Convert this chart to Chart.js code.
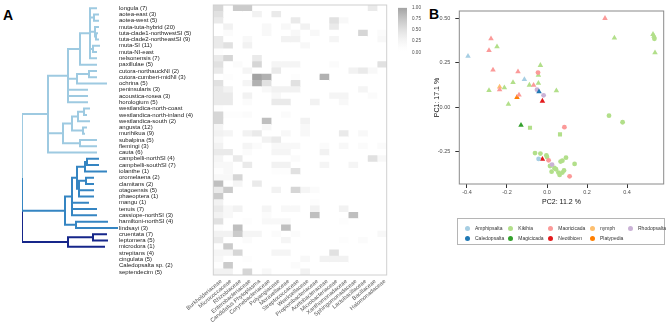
<!DOCTYPE html>
<html>
<head>
<meta charset="utf-8">
<script src="https://cdn.jsdelivr.net/npm/chart.js@4.4.1/dist/chart.umd.min.js"></script>
<style>
  body { margin: 0; width: 669px; height: 330px; position: relative; overflow: hidden; background: #fff; font-family: "Liberation Sans", Arial, sans-serif; }
  canvas { position: absolute; }
  .panel { position: absolute; font-weight: bold; font-size: 14px; line-height: 1; color: #000; }
  #legend { position: absolute; left: 457px; top: 218px; width: 206px; height: 25px; border: 1px solid #b5b5b5; }
  .item { position: absolute; font-size: 5px; line-height: 6px; color: #333; white-space: nowrap; }
  .dot { position: absolute; width: 5px; height: 5px; border-radius: 50%; }
</style>
</head>
<body>
<div class="panel" style="left:3px;top:8px">A</div>
<div class="panel" style="left:429px;top:7px">B</div>
<canvas id="tree" width="125" height="280" style="left:0;top:0"></canvas>
<canvas id="heat" width="275" height="330" style="left:119px;top:0"></canvas>
<canvas id="bar" width="40" height="60" style="left:396px;top:0"></canvas>
<canvas id="pca" width="264" height="210" style="left:405px;top:0"></canvas>
<div id="legend"></div>
<script>
'use strict';
Chart.defaults.font.family = '"Liberation Sans", Arial, sans-serif';

// Heatmap rows (top to bottom) and columns
var species = [
  'longula (7)', 'aotea-east (3)', 'aotea-west (5)', 'muta-tuta-hybrid (20)',
  'tuta-clade1-northwestSI (5)', 'tuta-clade2-northeastSI (9)', 'muta-SI (11)', 'muta-NI-east',
  'nelsonensis (7)', 'paxillulae (5)', 'cutora-northauckNI (2)', 'cutora-cumberi-midNI (3)',
  'ochrina (5)', 'peninsularis (3)', 'acoustica-rosea (3)', 'horologium (5)',
  'westlandica-north-coast', 'westlandica-north-inland (4)', 'westlandica-south (2)', 'angusta (12)',
  'murihikua (9)', 'subalpina (5)', 'flemingi (3)', 'cauta (6)',
  'campbelli-northSI (4)', 'campbelli-southSI (7)', 'iolanthe (1)', 'oromelaena (2)',
  'clamitans (2)', 'otagoensis (5)', 'phaeoptera (1)', 'mangu (1)',
  'tenuis (7)', 'cassiope-northSI (3)', 'hamiltoni-northSI (4)', 'lindsayi (3)',
  'cruentata (7)', 'leptomera (5)', 'microdora (1)', 'strepitans (4)',
  'cingulata (5)', 'Caledopsalta sp. (2)', 'septendecim (5)'
];
var families = [
  'Burkholderiaceae', 'Micrococcaceae', 'Rhizobiaceae', 'Enterobacteriaceae',
  'Candidatus Phytoplasma', 'Corynebacteriaceae', 'Polyangiaceae', 'Moraxellaceae',
  'Streptococcaceae', 'Weeksellaceae', 'Propionibacteriaceae', 'Acetobacteraceae',
  'Microbacteriaceae', 'Xanthomonadaceae', 'Sphingomonadaceae', 'Lactobacillaceae',
  'Bacillaceae', 'Halomonadaceae'
];
var heatValues = [
  [.6,0,.7,.7,0,0,0,0,0,0,0,0,0,0,0,0,.4,0],
  [.5,0,0,0,.3,0,.4,0,0,0,0,0,0,0,0,0,0,0],
  [.4,0,0,0,0,0,0,0,.4,0,0,0,.5,.2,0,0,0,0],
  [0,.3,0,0,0,.2,0,.2,0,.3,0,0,.4,0,0,0,0,0],
  [0,.15,0,0,0,.2,0,0,.2,0,.2,0,0,0,0,.6,0,.15],
  [.4,0,0,.2,0,0,0,.3,.3,0,0,0,.25,0,0,0,0,.2],
  [.4,.5,0,.3,0,0,0,0,0,.2,0,0,0,0,0,0,0,0],
  [.1,0,0,0,0,0,0,0,0,0,0,0,0,0,0,0,0,0],
  [.4,.6,0,0,.4,0,0,0,0,0,0,0,0,0,0,0,0,0],
  [.5,0,.15,0,.6,0,.25,.25,.25,0,0,0,.15,0,0,0,0,.5],
  [.4,0,0,.25,0,0,.4,0,0,0,0,0,0,0,.3,.4,.2,0],
  [0,.1,0,0,1,.9,0,0,.1,0,0,.9,0,0,0,0,0,0],
  [.5,0,0,.25,.9,.5,0,0,.5,0,0,0,0,0,0,0,0,0],
  [.4,.3,0,0,0,.2,.3,.3,.3,0,0,0,0,0,0,.25,0,0],
  [.4,.4,0,.3,0,0,.2,0,0,0,0,0,.25,.25,0,0,.15,0],
  [.4,.4,0,.15,0,0,.4,.4,0,0,.3,0,0,.2,0,0,0,0],
  [.1,0,0,0,0,0,0,0,0,0,0,0,0,0,0,0,0,0],
  [.6,.1,.1,.15,0,0,0,.15,0,0,0,0,0,0,0,0,0,0],
  [.6,0,0,0,0,.8,0,0,0,.3,0,0,0,0,0,0,0,0],
  [.25,0,0,0,0,.2,0,0,0,.2,0,0,0,0,0,0,0,0],
  [.3,.25,0,.3,.4,0,0,.2,0,.2,0,0,0,.4,0,.2,0,0],
  [.2,0,0,0,0,.3,.4,0,0,0,0,0,0,0,0,0,0,0],
  [.3,0,0,.25,.15,0,.2,.2,.2,0,0,.15,0,.2,0,.15,0,.15],
  [.4,.4,0,.15,0,0,.25,.25,0,0,0,.3,0,0,0,0,0,0],
  [.25,0,.4,0,0,0,0,0,.15,0,0,0,0,0,0,0,.5,.2],
  [.2,.2,0,.4,0,0,.3,.3,0,0,0,.25,0,0,.25,0,0,0],
  [.1,.2,0,0,0,0,.1,.1,.5,0,0,0,0,0,0,0,0,0],
  [.2,.2,.6,0,0,0,0,0,0,0,0,0,0,0,0,0,0,0],
  [.8,0,.25,0,.4,0,0,0,0,0,0,0,0,0,0,0,0,0],
  [.4,.7,0,0,0,0,.3,0,.6,.25,.15,0,0,0,0,0,0,0],
  [.7,0,0,0,0,0,0,0,0,0,0,0,0,0,0,0,0,0],
  [.3,0,0,0,0,0,0,0,0,0,.1,0,0,0,0,0,0,0],
  [.4,.2,.3,0,0,.25,0,.2,.2,0,.3,0,0,.3,0,0,0,0],
  [.3,.2,0,0,0,.15,0,0,0,0,.8,0,0,0,.8,0,0,0],
  [.5,0,0,.1,0,.2,.2,.2,0,0,0,0,0,.1,0,0,0,0],
  [.1,0,.8,0,0,0,0,.8,0,0,0,0,0,0,0,0,0,0],
  [.3,.3,.7,.25,.25,0,.15,0,.15,0,0,0,0,0,0,0,0,.2],
  [.4,0,0,.15,0,0,0,.25,0,0,0,0,0,.1,0,.15,0,0],
  [.1,.7,0,0,0,0,0,0,0,0,0,0,0,0,0,0,0,0],
  [.25,.25,.6,0,0,0,.25,.25,0,0,0,0,.5,0,0,0,0,0],
  [.2,0,0,.1,0,0,0,0,0,.2,0,.3,.3,.3,0,0,0,0],
  [.1,.7,0,0,0,0,0,0,.15,0,0,0,0,0,0,0,0,0],
  [.3,.3,0,.6,0,.2,0,0,0,.3,0,0,0,0,0,0,0,0]
];
var heatTicks = [0, 0.25, 0.5, 0.75, 1];

// Dendrogram: node(depth, children...), tip(depth, row in species)
function node(d) { return { d: d, k: Array.prototype.slice.call(arguments, 1) }; }
function tip(d, r) { return { d: d, r: r }; }
var lightClade = node(26,
  node(46,
    node(58,
      node(68, tip(75, 0), node(72, tip(77, 1), tip(77, 2)),
        node(73, tip(77, 3), node(74, tip(76, 4), tip(77, 5))),
        node(71, tip(78, 6), tip(75, 7)), tip(75, 8)),
      tip(75, 9)),
    node(55, node(67, tip(75, 10), tip(75, 11)), tip(85, 12)),
    tip(66, 13), tip(66, 14), tip(66, 15)),
  node(41,
    node(50, node(56, node(62, tip(68, 16), tip(65, 17)), tip(68, 18)),
      node(61, tip(65, 19), tip(63, 20))),
    node(58, tip(75, 21), tip(75, 22))),
  tip(75, 23));
var midClade = node(43,
  node(50,
    node(55,
      node(63, node(65, tip(77, 24), tip(77, 25)), tip(85, 26)),
      node(57, node(64, tip(72, 27), tip(72, 28)), tip(72, 29), tip(72, 30))),
    tip(67, 31), tip(75, 32), tip(75, 33)),
  node(54, tip(86, 34), tip(96, 35)));
var darkClade = node(46, node(71, tip(85, 36), tip(86, 37)), tip(83, 38));
var clades = [lightClade, midClade, darkClade];
var cladeColors = ['#9ecae1', '#3585c2', '#16268a'];

// PCA points; genus is an index into genera, shape t/c/s
var genera = ['Amphipsalta', 'Caledopsalta', 'Kikihia', 'Magicicada', 'Maoricicada', 'Neotibicen', 'nymph', 'Platypedia', 'Rhodopsalta'];
var genusColors = ['#a6cee3', '#1f78b4', '#b2df8a', '#33a02c', '#fb9a99', '#e31a1c', '#fdbf6f', '#ff7f00', '#cab2d6'];
var pcaX = [0.29, 0.337, 0.53, 0.535, 0.537, 0.54, -0.28, -0.29, -0.25, -0.395,
  -0.27, -0.145, -0.045, -0.033, -0.043, -0.113, -0.17, -0.043, -0.088, -0.067,
  -0.29, -0.237, -0.237, -0.213, -0.05, -0.04, -0.017, 0.047, -0.14, -0.15,
  -0.023, -0.193, -0.13, -0.085, 0.087, 0.31, 0.378, 0.065, -0.06, -0.033,
  -0.003, 0.0, -0.042, -0.023, 0.008, 0.095, 0.068, 0.077, 0.138, 0.025,
  0.037, 0.045, 0.023, 0.057, 0.077, 0.063, 0.113, 0.015, 0.085];
var pcaY = [0.50, 0.39, 0.41, 0.40, 0.385, 0.307, 0.385, 0.32, 0.34, 0.287,
  0.21, 0.20, 0.195, 0.236, 0.18, 0.157, 0.14, 0.135, 0.125, 0.124,
  0.095, 0.114, 0.099, 0.11, 0.099, 0.088, 0.067, 0.093, 0.069, 0.056,
  0.035, 0.017, -0.10, -0.115, -0.112, -0.047, -0.084, -0.152, -0.257, -0.26,
  -0.27, -0.28, -0.29, -0.292, -0.298, -0.283, -0.305, -0.30, -0.318, -0.322,
  -0.341, -0.348, -0.362, -0.367, -0.367, -0.38, -0.388, -0.33, -0.355];
var pcaGenus = [4, 2, 2, 2, 2, 2, 4, 4, 2, 0,
  4, 4, 4, 2, 2, 0, 2, 2, 2, 4,
  2, 6, 4, 2, 8, 1, 8, 2, 4, 7,
  5, 2, 3, 2, 4, 2, 2, 2, 2, 2,
  2, 2, 0, 5, 4, 2, 2, 2, 2, 8,
  2, 2, 2, 2, 2, 2, 4, 2, 2];
var pcaShape = ['t', 't', 't', 't', 'c', 't', 't', 't', 't', 't',
  't', 't', 'c', 't', 't', 't', 't', 't', 't', 't',
  't', 't', 't', 't', 'c', 't', 'c', 't', 't', 't',
  't', 't', 't', 's', 'c', 'c', 'c', 's', 'c', 'c',
  'c', 'c', 'c', 't', 'c', 'c', 'c', 'c', 'c', 'c',
  'c', 'c', 'c', 'c', 'c', 'c', 'c', 'c', 'c'];
var pcaXTicks = [-0.4, -0.2, 0, 0.2, 0.4];
var pcaYTicks = [-0.25, 0, 0.25, 0.5];

// light greys for small values, darker only near the top of the scale
function heatColor(v) {
  var g = Math.round(255 - 92 * Math.pow(Math.min(1, v || 0), 1.6));
  return 'rgb(' + g + ',' + g + ',' + g + ')';
}

function framePlugin(color) {
  return {
    id: 'frame',
    afterDraw: function(chart) {
      var a = chart.chartArea, ctx = chart.ctx;
      ctx.save();
      ctx.strokeStyle = color;
      ctx.lineWidth = 1;
      ctx.strokeRect(a.left, a.top, a.right - a.left, a.bottom - a.top);
      ctx.restore();
    }
  };
}

function setTicks(values) {
  return function(axis) { axis.ticks = values.map(function(v) { return { value: v }; }); };
}

var noHover = { legend: { display: false }, tooltip: { enabled: false } };

// Tree: elbow segments from each parent to its children
function setY(n) {
  if (n.k) {
    n.k.forEach(setY);
    n.y = (n.k[0].y + n.k[n.k.length - 1].y) / 2;
  } else {
    n.y = n.r;
  }
}
function elbows(parent, child, out) {
  out.push({ x: parent.d, y: parent.y }, { x: parent.d, y: child.y }, { x: child.d, y: child.y }, { x: null, y: null });
  if (child.k) child.k.forEach(function(c) { elbows(child, c, out); });
}
var root = { d: 0, k: clades };
setY(root);

new Chart(document.getElementById('tree'), {
  type: 'scatter',
  data: {
    datasets: clades.map(function(c, i) {
      var pts = [];
      elbows(root, c, pts);
      return {
        data: pts, showLine: true, spanGaps: false, borderColor: cladeColors[i], borderWidth: 2,
        pointRadius: 0, borderCapStyle: 'butt', borderJoinStyle: 'miter', tension: 0
      };
    })
  },
  options: {
    responsive: false, animation: false, events: [],
    layout: { padding: { left: 22, right: 3, top: 5, bottom: 5 } },
    plugins: noHover,
    scales: {
      x: { type: 'linear', display: false, min: 0, max: 100 },
      y: { type: 'linear', display: false, min: -0.5, max: species.length - 0.5, reverse: true }
    }
  }
});

// Heatmap as stacked horizontal bars, one dataset per column
new Chart(document.getElementById('heat'), {
  type: 'bar',
  data: {
    labels: species,
    datasets: families.map(function(f, j) {
      return {
        label: f,
        data: species.map(function() { return 1; }),
        backgroundColor: heatValues.map(function(row) { return heatColor(row[j]); }),
        barPercentage: 1, categoryPercentage: 1, borderWidth: 0
      };
    })
  },
  options: {
    indexAxis: 'y', responsive: false, animation: false, events: [],
    layout: { padding: { left: 0, right: 7.3, top: 5, bottom: 0 } },
    plugins: noHover,
    scales: {
      x: {
        type: 'linear', stacked: true, min: 0, max: families.length,
        grid: { display: false, drawTicks: false }, border: { display: false },
        afterBuildTicks: setTicks(families.map(function(f, i) { return i + 0.5; })),
        afterFit: function(a) { a.height = 55; },
        ticks: {
          autoSkip: false, minRotation: 40, maxRotation: 40, padding: 3, labelOffset: 3,
          font: { size: 5.7 }, color: '#555',
          callback: function(v, i) { return families[i]; }
        }
      },
      y: {
        stacked: true,
        grid: { display: false, drawTicks: false }, border: { display: false },
        afterFit: function(a) { a.width = 94.3; },
        ticks: { autoSkip: false, crossAlign: 'far', padding: 0, font: { size: 6 }, color: '#222' }
      }
    }
  },
  plugins: [framePlugin('#d0d0d0')]
});

// Colour bar
new Chart(document.getElementById('bar'), {
  type: 'bar',
  data: {
    labels: [''],
    datasets: [{
      data: [[0, 1]], barPercentage: 1, categoryPercentage: 1, borderWidth: 0,
      backgroundColor: function(ctx) {
        var a = ctx.chart.chartArea;
        if (!a) return '#ccc';
        var g = ctx.chart.ctx.createLinearGradient(0, a.bottom, 0, a.top);
        for (var s = 0; s <= 10; s++) g.addColorStop(s / 10, heatColor(s / 10));
        return g;
      }
    }]
  },
  options: {
    responsive: false, animation: false, events: [],
    layout: { padding: { left: 2, right: 0, top: 5, bottom: 4 } },
    plugins: noHover,
    scales: {
      x: { display: false },
      y: {
        position: 'right', min: 0, max: 1,
        afterBuildTicks: setTicks(heatTicks),
        afterFit: function(a) { a.width = 29; },
        grid: { display: false, drawTicks: false }, border: { display: false },
        ticks: { padding: 5, font: { size: 4.6 }, color: '#4d4d4d', callback: function(v) { return v.toFixed(2); } }
      }
    }
  }
});

// PCA
var shapeStyle = { t: 'triangle', c: 'circle', s: 'rect' };
var shapeRadius = { t: 3.2, c: 2.4, s: 2.9 };
var pcaSets = genera.map(function(g, gi) {
  var idx = [];
  pcaGenus.forEach(function(v, i) { if (v === gi) idx.push(i); });
  return {
    label: g,
    data: idx.map(function(i) { return { x: pcaX[i], y: pcaY[i] }; }),
    pointStyle: idx.map(function(i) { return shapeStyle[pcaShape[i]]; }),
    pointRadius: idx.map(function(i) { return shapeRadius[pcaShape[i]]; }),
    backgroundColor: genusColors[gi], borderWidth: 0,
    order: g === 'Kikihia' ? 1 : 0
  };
});

new Chart(document.getElementById('pca'), {
  type: 'scatter',
  data: { datasets: pcaSets },
  options: {
    responsive: false, animation: false, events: [],
    layout: { padding: { left: 24, right: 5.3, top: 11, bottom: 0 } },
    plugins: noHover,
    scales: {
      x: {
        type: 'linear', min: -0.4385, max: 0.5835,
        afterBuildTicks: setTicks(pcaXTicks),
        afterFit: function(a) { a.height = 26; },
        grid: { drawOnChartArea: false, tickLength: 4, color: '#333' }, border: { display: false },
        ticks: { padding: 1, font: { size: 5.5 }, color: '#4d4d4d', callback: function(v) { return v.toFixed(1); } },
        title: { display: true, text: 'PC2: 11.2 %', font: { size: 7 }, color: '#111', padding: { top: 0, bottom: 4 } }
      },
      y: {
        type: 'linear', min: -0.431, max: 0.541,
        afterBuildTicks: setTicks(pcaYTicks),
        afterFit: function(a) { a.width = 30.3; },
        grid: { drawOnChartArea: false, tickLength: 4, color: '#333' }, border: { display: false },
        ticks: { padding: 5, font: { size: 5.5 }, color: '#4d4d4d', callback: function(v) { return v.toFixed(2); } },
        title: { display: true, text: 'PC1: 17.1 %', font: { size: 7 }, color: '#111', padding: { top: 4, bottom: 0 } }
      }
    }
  },
  plugins: [framePlugin('#8a8a8a')]
});

// Legend, two rows filled column by column
var legendBox = document.getElementById('legend');
var legendColX = [9, 52.3, 92.3, 134, 172];
var legendRowY = [9, 19.3];
genera.forEach(function(g, i) {
  var cx = legendColX[Math.floor(i / 2)], cy = legendRowY[i % 2];
  var dot = document.createElement('div');
  dot.className = 'dot';
  dot.style.left = (cx - 2.5) + 'px';
  dot.style.top = (cy - 2.5) + 'px';
  dot.style.background = genusColors[i];
  legendBox.appendChild(dot);
  var label = document.createElement('div');
  label.className = 'item';
  label.style.left = (cx + 8) + 'px';
  label.style.top = (cy - 3) + 'px';
  label.textContent = g;
  legendBox.appendChild(label);
});
</script>
</body>
</html>
